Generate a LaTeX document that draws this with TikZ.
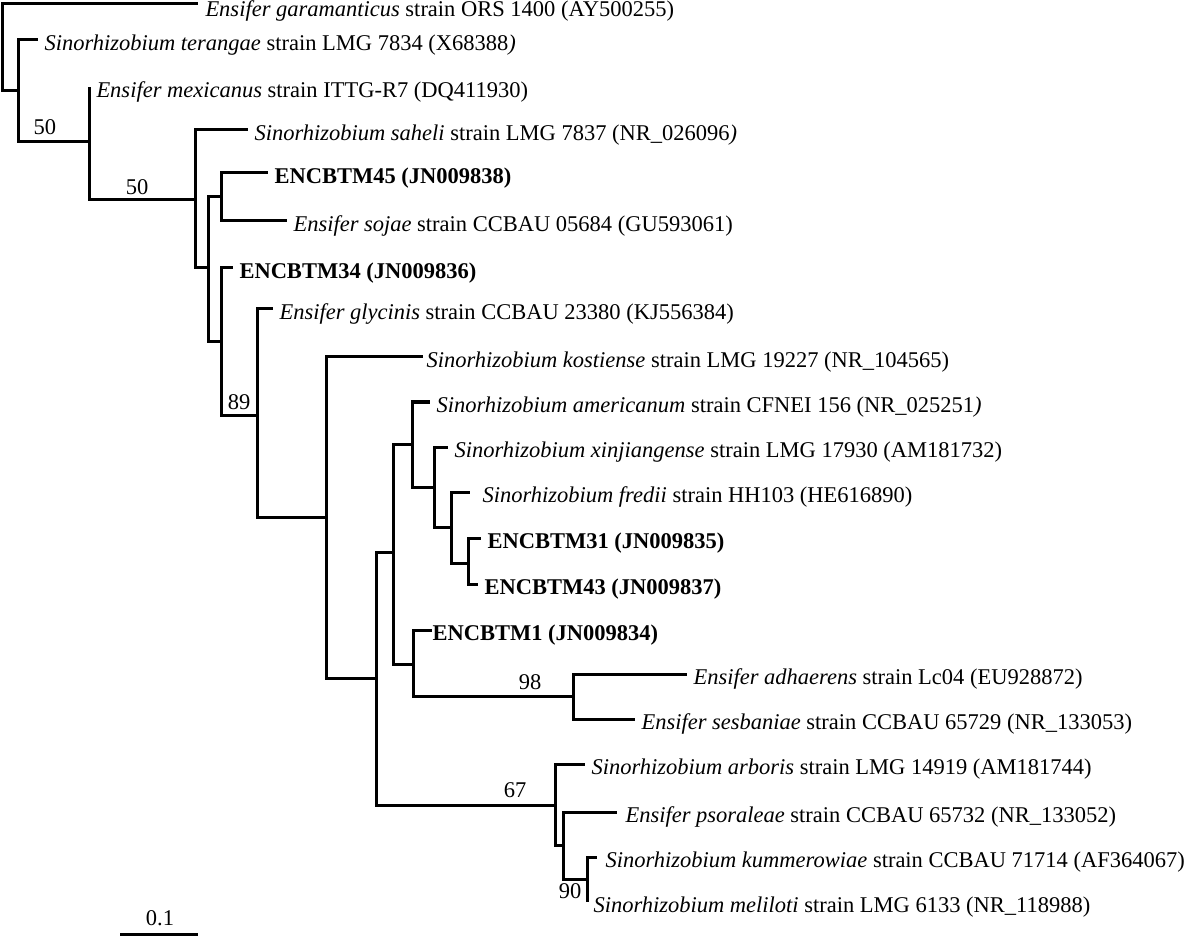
\documentclass[tikz,border=0pt]{standalone}
\usepackage{fontspec}
\setmainfont{Liberation Serif}

\begin{document}
\begin{tikzpicture}[x=0.5pt, y=-0.5pt, line width=1.5pt,
    taxon/.style={anchor=base west, inner sep=0pt, xshift=2.5pt, yshift=-5.25pt, font=\fontsize{11.25}{13}\selectfont},
    boot/.style={inner sep=0pt, font=\fontsize{11.25}{13}\selectfont}]
    \useasboundingbox (0,0) rectangle (1184,936);

    % branch tips
    \coordinate (gar) at (198,4);
    \coordinate (ter) at (38,40);
    \coordinate (mex) at (89,87);
    \coordinate (sah) at (248,130);
    \coordinate (m45) at (268,173);
    \coordinate (soj) at (287,221);
    \coordinate (m34) at (233,268);
    \coordinate (gly) at (273,309);
    \coordinate (kos) at (423,357);
    \coordinate (ame) at (430,402);
    \coordinate (xin) at (448,447);
    \coordinate (fre) at (470,492);
    \coordinate (m31) at (481,538);
    \coordinate (m43) at (478,584);
    \coordinate (m1)  at (432,630);
    \coordinate (adh) at (687,674);
    \coordinate (ses) at (635,719);
    \coordinate (arb) at (585,764);
    \coordinate (pso) at (617,812);
    \coordinate (kum) at (597,857);
    \coordinate (mel) at (587,902);

    % inner nodes
    \coordinate (root) at (2,47);
    \coordinate (n1) at (18,91);
    \coordinate (n2) at (89,142);
    \coordinate (n3) at (195,200);
    \coordinate (n4) at (208,268);
    \coordinate (n5) at (221,197);
    \coordinate (n6) at (221,342);
    \coordinate (n7) at (257,415);
    \coordinate (n8) at (326,517);
    \coordinate (n9) at (376,678);
    \coordinate (n10) at (393,552);
    \coordinate (n11) at (412,444);
    \coordinate (n12) at (434,487);
    \coordinate (n13) at (451,527);
    \coordinate (n14) at (468,563);
    \coordinate (n15) at (413,664);
    \coordinate (n16) at (573,696);
    \coordinate (n17) at (555,805);
    \coordinate (n18) at (563,845);
    \coordinate (n19) at (587,879);

    % tree
    \draw (root) |- (gar) (root) |- (n1);
    \draw (n1) |- (ter) (n1) |- (n2);
    \draw (n2) |- (mex) (n2) |- (n3);
    \draw (n3) |- (sah) (n3) |- (n4);
    \draw (n4) |- (n5) (n4) |- (n6);
    \draw (n5) |- (m45) (n5) |- (soj);
    \draw (n6) |- (m34) (n6) |- (n7);
    \draw (n7) |- (gly) (n7) |- (n8);
    \draw (n8) |- (kos) (n8) |- (n9);
    \draw (n9) |- (n10) (n9) |- (n17);
    \draw (n10) |- (n11) (n10) |- (n15);
    \draw (n11) |- (ame) (n11) |- (n12);
    \draw (n12) |- (xin) (n12) |- (n13);
    \draw (n13) |- (fre) (n13) |- (n14);
    \draw (n14) |- (m31) (n14) |- (m43);
    \draw (n15) |- (m1) (n15) |- (n16);
    \draw (n16) |- (adh) (n16) |- (ses);
    \draw (n17) |- (arb) (n17) |- (n18);
    \draw (n18) |- (pso) (n18) |- (n19);
    \draw (n19) |- (kum) (n19) |- (mel);

    % taxa
    \node[taxon, xshift=0.5pt, yshift=-1pt] (t-gar) at (gar) {\textit{Ensifer garamanticus} strain ORS 1400 (AY500255)};
    \node[taxon] (t-ter) at (ter) {\textit{Sinorhizobium terangae} strain LMG 7834 (X68388\textit{)}};
    \node[taxon, xshift=0.5pt] (t-mex) at (mex) {\textit{Ensifer mexicanus} strain ITTG-R7 (DQ411930)};
    \node[taxon] (t-sah) at (sah) {\textit{Sinorhizobium saheli} strain LMG 7837 (NR\_026096\textit{)}};
    \node[taxon] (t-m45) at (m45) {\textbf{ENCBTM45 (JN009838)}};
    \node[taxon] (t-soj) at (soj) {\textit{Ensifer sojae} strain CCBAU 05684 (GU593061)};
    \node[taxon] (t-m34) at (m34) {\textbf{ENCBTM34 (JN009836)}};
    \node[taxon] (t-gly) at (gly) {\textit{Ensifer glycinis} strain CCBAU 23380 (KJ556384)};
    \node[taxon, xshift=-1.5pt] (t-kos) at (kos) {\textit{Sinorhizobium kostiense} strain LMG 19227 (NR\_104565)};
    \node[taxon] (t-ame) at (ame) {\textit{Sinorhizobium americanum} strain CFNEI 156 (NR\_025251\textit{)}};
    \node[taxon] (t-xin) at (xin) {\textit{Sinorhizobium xinjiangense} strain LMG 17930 (AM181732)};
    \node[taxon, xshift=3pt] (t-fre) at (fre) {\textit{Sinorhizobium fredii} strain HH103 (HE616890)};
    \node[taxon] (t-m31) at (m31) {\textbf{ENCBTM31 (JN009835)}};
    \node[taxon] (t-m43) at (m43) {\textbf{ENCBTM43 (JN009837)}};
    \node[taxon, xshift=-3pt] (t-m1) at (m1) {\textbf{ENCBTM1 (JN009834)}};
    \node[taxon] (t-adh) at (adh) {\textit{Ensifer adhaerens} strain Lc04 (EU928872)};
    \node[taxon] (t-ses) at (ses) {\textit{Ensifer sesbaniae} strain CCBAU 65729 (NR\_133053)};
    \node[taxon] (t-arb) at (arb) {\textit{Sinorhizobium arboris} strain LMG 14919 (AM181744)};
    \node[taxon, xshift=1pt] (t-pso) at (pso) {\textit{Ensifer psoraleae} strain CCBAU 65732 (NR\_133052)};
    \node[taxon, xshift=1pt] (t-kum) at (kum) {\textit{Sinorhizobium kummerowiae} strain CCBAU 71714 (AF364067)};
    \node[taxon] (t-mel) at (mel) {\textit{Sinorhizobium meliloti} strain LMG 6133 (NR\_118988)};

    % bootstrap values
    \node[boot] (b-n2) at (45,127) {50};
    \node[boot] (b-n3) at (137,187) {50};
    \node[boot] (b-n7) at (239,402) {89};
    \node[boot] (b-n16) at (530,682) {98};
    \node[boot] (b-n17) at (515,790) {67};
    \node[boot] (b-n19) at (570,891) {90};

    % scale
    \coordinate (sb-l) at (120,934);
    \coordinate (sb-r) at (198,934);
    \draw (sb-l) -- (sb-r);
    \node[boot] (sb) at (160,918) {0.1};
\end{tikzpicture}
\end{document}
